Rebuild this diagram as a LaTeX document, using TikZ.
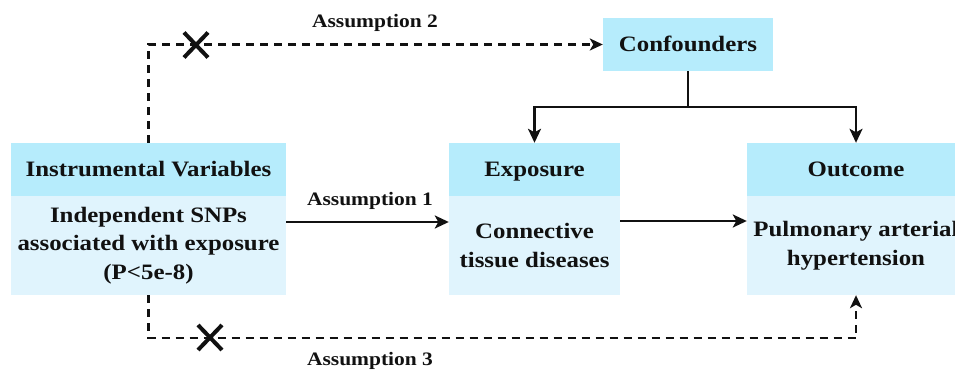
\documentclass[tikz,border=0pt]{standalone}
\usepackage{fontspec}
\setmainfont[FakeStretch=1.13]{Liberation Serif}
\usetikzlibrary{arrows.meta,shapes.misc}
\definecolor{hdrcol}{RGB}{182,236,252}
\definecolor{bodycol}{RGB}{224,244,253}
\definecolor{inkcol}{RGB}{17,17,17}
\tikzset{
  hdrbox/.style={fill=hdrcol, draw=none, inner sep=0pt, minimum height=53pt, text=inkcol,
    text height=17pt, text depth=2pt,
    font=\fontsize{22}{28}\selectfont\bfseries},
  bodybox/.style={fill=bodycol, draw=none, inner sep=0pt, minimum height=99pt, align=center, text=inkcol,
    font=\fontsize{22}{28.5}\selectfont\bfseries},
  lbl/.style={text=inkcol, inner sep=0pt, font=\fontsize{19}{22}\selectfont\bfseries},
  arr/.style={line width=2.4pt, draw=inkcol, -{Stealth[length=14pt,width=13pt,inset=3.5pt]}},
  solidline/.style={line width=2.4pt, draw=inkcol},
  dasharr/.style={line width=2.4pt, draw=inkcol, dash pattern=on 8pt off 6pt, -{Stealth[length=13pt,width=12pt,inset=3.5pt]}},
  crossmark/.style={cross out, draw=inkcol, line width=4pt, minimum width=20pt, minimum height=21pt, inner sep=0pt},
}
\begin{document}
\begin{tikzpicture}[x=1pt,y=-1pt]
\useasboundingbox (0,0) rectangle (955,371);
% boxes
\node[hdrbox, minimum width=275pt] (ivh) at (148.5,169.5) {Instrumental Variables};
\node[bodybox, minimum width=275pt] (ivb) at (148.5,245.5) {Independent SNPs\\associated with exposure\\(P<5e-8)};
\node[hdrbox, minimum width=171pt] (exh) at (534.5,169.5) {Exposure};
\node[bodybox, minimum width=171pt] (exb) at (534.5,245.5) {Connective\\tissue diseases};
\node[hdrbox, minimum width=218pt] (outh) at (856,169.5) {Outcome};
\node[bodybox, minimum width=218pt] (outb) at (856,245.5) {Pulmonary arterial\\hypertension};
\node[hdrbox, minimum width=170pt] (conf) at (688,44.5) {Confounders};
% labels
\node[lbl] (a2) at (375,23) {Assumption 2};
\node[lbl] (a1) at (370,201) {Assumption 1};
\node[lbl] (a3) at (370,361) {Assumption 3};
% connectors
\draw[arr] ([yshift=23.5pt]ivb.east) -- ([yshift=23.5pt]exb.west);
\draw[arr] ([yshift=24.5pt]exb.east) -- ([yshift=24.5pt]outb.west);
\draw[solidline] (conf.south) -- ++(0,36) coordinate (br);
\draw[arr] (br) -| (exh.north);
\draw[arr] (br) -| (outh.north);
\draw[dasharr] (ivh.north) |- (conf.west);
\draw[dasharr] (ivb.south) -- ++(0,43) -| (outb.south);
% crosses
\node[crossmark] (x2) at (196,45) {};
\node[crossmark] (x3) at (210,337.5) {};
\end{tikzpicture}
\end{document}
